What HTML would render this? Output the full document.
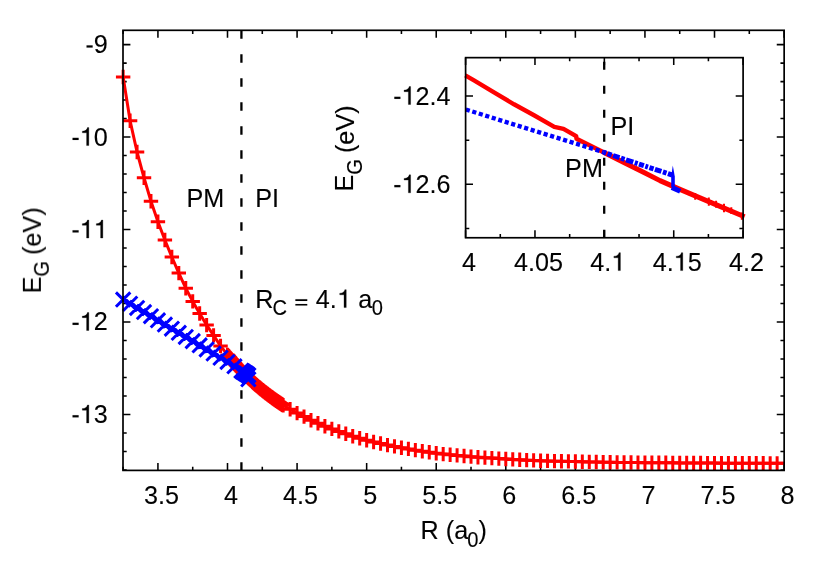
<!DOCTYPE html>
<html>
<head>
<meta charset="utf-8">
<title>E_G vs R</title>
<style>
html,body{margin:0;padding:0;background:#ffffff;}
body{width:822px;height:576px;overflow:hidden;font-family:"Liberation Sans",sans-serif;}
svg{display:block;will-change:transform;}
</style>
</head>
<body>
<svg width="822" height="576" viewBox="0 0 822 576">
<rect width="822" height="576" fill="#ffffff"/>
<path d="M123.14 470.4v-3.7M123.14 30.3v3.7M157.93 470.4v-7.4M157.93 30.3v7.4M192.72 470.4v-3.7M192.72 30.3v3.7M227.5 470.4v-7.4M227.5 30.3v7.4M262.29 470.4v-3.7M262.29 30.3v3.7M297.08 470.4v-7.4M297.08 30.3v7.4M331.86 470.4v-3.7M331.86 30.3v3.7M366.65 470.4v-7.4M366.65 30.3v7.4M401.43 470.4v-3.7M401.43 30.3v3.7M436.22 470.4v-7.4M436.22 30.3v7.4M471.01 470.4v-3.7M471.01 30.3v3.7M505.79 470.4v-7.4M505.79 30.3v7.4M540.58 470.4v-3.7M540.58 30.3v3.7M575.37 470.4v-7.4M575.37 30.3v7.4M610.15 470.4v-3.7M610.15 30.3v3.7M644.94 470.4v-7.4M644.94 30.3v7.4M679.72 470.4v-3.7M679.72 30.3v3.7M714.51 470.4v-7.4M714.51 30.3v7.4M749.3 470.4v-3.7M749.3 30.3v3.7M784.08 470.4v-7.4M784.08 30.3v7.4M123 469.91h3.7M784.15 469.91h-3.7M123 451.42h3.7M784.15 451.42h-3.7M123 432.93h3.7M784.15 432.93h-3.7M123 414.44h7.4M784.15 414.44h-7.4M123 395.95h3.7M784.15 395.95h-3.7M123 377.46h3.7M784.15 377.46h-3.7M123 358.97h3.7M784.15 358.97h-3.7M123 340.48h3.7M784.15 340.48h-3.7M123 321.99h7.4M784.15 321.99h-7.4M123 303.49h3.7M784.15 303.49h-3.7M123 285h3.7M784.15 285h-3.7M123 266.51h3.7M784.15 266.51h-3.7M123 248.02h3.7M784.15 248.02h-3.7M123 229.53h7.4M784.15 229.53h-7.4M123 211.04h3.7M784.15 211.04h-3.7M123 192.55h3.7M784.15 192.55h-3.7M123 174.06h3.7M784.15 174.06h-3.7M123 155.57h3.7M784.15 155.57h-3.7M123 137.07h7.4M784.15 137.07h-7.4M123 118.58h3.7M784.15 118.58h-3.7M123 100.09h3.7M784.15 100.09h-3.7M123 81.6h3.7M784.15 81.6h-3.7M123 63.11h3.7M784.15 63.11h-3.7M123 44.62h7.4M784.15 44.62h-7.4" stroke="#000" stroke-width="1.55" fill="none"/>
<path d="M241.42 30.3V470.4" stroke="#000" stroke-width="2.3" stroke-dasharray="8.4 15.6" fill="none"/>
<g fill="none" stroke-width="3.0">
<path d="M123.14 77L130.1 120.8L137.06 152L144.02 177.8L150.97 201.3L157.93 221.8L164.89 240L171.84 257L178.8 273.1L185.76 288.2L192.72 301.4L199.67 313.5L206.63 325.1L213.59 335.4L220.55 345.9L227.5 354.9L227.5 354.9L228.06 355.58L228.62 356.25L229.17 356.92L229.73 357.58L230.29 358.25L230.84 358.91L231.4 359.56L231.96 360.21L232.51 360.86L233.07 361.5L233.62 362.15L234.18 362.78L234.74 363.41L235.29 364.04L235.85 364.67L236.41 365.29L236.96 365.91L237.52 366.52L238.08 367.13L238.63 367.74L239.19 368.34L239.75 368.93L240.3 369.53L240.86 370.12L241.42 370.7L241.97 371.28L242.53 371.86L243.09 372.43L243.64 373.01L244.2 373.57L244.76 374.14L245.31 374.7L245.87 375.26L246.43 375.82L246.98 376.37L247.54 376.92L248.1 377.46L248.65 378L249.21 378.54L249.77 379.07L250.32 379.6L250.88 380.13L251.44 380.65L251.99 381.17L252.55 381.69L253.11 382.2L253.66 382.7L254.22 383.21L254.77 383.71L255.33 384.2L255.89 384.69L256.44 385.18L257 385.66L257.56 386.14L258.11 386.62L258.67 387.09L259.23 387.56L259.78 388.02L260.34 388.49L260.9 388.95L261.45 389.4L262.01 389.86L262.57 390.31L263.12 390.76L263.68 391.2L264.24 391.64L264.79 392.08L265.35 392.52L265.91 392.95L266.46 393.38L267.02 393.81L267.58 394.24L268.13 394.66L268.69 395.08L269.25 395.5L269.8 395.92L270.36 396.33L270.92 396.75L271.47 397.16L272.03 397.57L272.59 397.98L273.14 398.38L273.7 398.78L274.26 399.19L274.81 399.58L275.37 399.98L275.92 400.37L276.48 400.77L277.04 401.15L277.59 401.54L278.15 401.92L278.71 402.3L279.26 402.67L279.82 403.05L280.38 403.41L280.93 403.78L281.49 404.14L282.05 404.5L282.6 404.85L283.16 405.2L290.12 409.2L297.08 413.1L304.03 416.6L310.99 420.2L317.95 423.2L324.9 426.3L331.86 428.9L338.82 431.4L345.78 433.8L352.73 436.2L359.69 438.2L366.65 440.2L373.6 441.95L380.56 443.5L387.52 445.1L394.48 446.4L401.43 447.7L408.39 448.9L415.35 450.15L422.31 451.25L429.26 452.3L436.22 453.25L443.18 454.1L450.13 454.75L457.09 455.4L464.05 456.05L471.01 456.65L477.96 457.2L484.92 457.65L491.88 458.1L498.84 458.6L505.79 459.05L512.75 459.4L519.71 459.8L526.66 460.15L533.62 460.4L540.58 460.7L547.54 460.9L554.49 461.15L561.45 461.25L568.41 461.39L575.37 461.55L582.32 461.73L589.28 461.9L596.24 462.05L603.19 462.19L610.15 462.3L617.11 462.39L624.07 462.46L631.02 462.53L637.98 462.59L644.94 462.65L651.89 462.71L658.85 462.76L665.81 462.81L672.77 462.86L679.72 462.91L686.68 462.96L693.64 463L700.6 463.04L707.55 463.08L714.51 463.12L721.47 463.16L728.42 463.19L735.38 463.22L742.34 463.25L749.3 463.27L756.25 463.29L763.21 463.31L770.17 463.33L777.13 463.34L784.08 463.35" stroke="#ff0000" stroke-linejoin="round"/>
<path d="M115.94 77h14.4M123.14 69.8v14.4M122.9 120.8h14.4M130.1 113.6v14.4M129.86 152h14.4M137.06 144.8v14.4M136.82 177.8h14.4M144.02 170.6v14.4M143.77 201.3h14.4M150.97 194.1v14.4M150.73 221.8h14.4M157.93 214.6v14.4M157.69 240h14.4M164.89 232.8v14.4M164.64 257h14.4M171.84 249.8v14.4M171.6 273.1h14.4M178.8 265.9v14.4M178.56 288.2h14.4M185.76 281v14.4M185.52 301.4h14.4M192.72 294.2v14.4M192.47 313.5h14.4M199.67 306.3v14.4M199.43 325.1h14.4M206.63 317.9v14.4M206.39 335.4h14.4M213.59 328.2v14.4M213.35 345.9h14.4M220.55 338.7v14.4M220.3 354.9h14.4M227.5 347.7v14.4M220.3 354.9h14.4M227.5 347.7v14.4M220.86 355.58h14.4M228.06 348.38v14.4M221.42 356.25h14.4M228.62 349.05v14.4M221.97 356.92h14.4M229.17 349.72v14.4M222.53 357.58h14.4M229.73 350.38v14.4M223.09 358.25h14.4M230.29 351.05v14.4M223.64 358.91h14.4M230.84 351.71v14.4M224.2 359.56h14.4M231.4 352.36v14.4M224.76 360.21h14.4M231.96 353.01v14.4M225.31 360.86h14.4M232.51 353.66v14.4M225.87 361.5h14.4M233.07 354.3v14.4M226.42 362.15h14.4M233.62 354.95v14.4M226.98 362.78h14.4M234.18 355.58v14.4M227.54 363.41h14.4M234.74 356.21v14.4M228.09 364.04h14.4M235.29 356.84v14.4M228.65 364.67h14.4M235.85 357.47v14.4M229.21 365.29h14.4M236.41 358.09v14.4M229.76 365.91h14.4M236.96 358.71v14.4M230.32 366.52h14.4M237.52 359.32v14.4M230.88 367.13h14.4M238.08 359.93v14.4M231.43 367.74h14.4M238.63 360.54v14.4M231.99 368.34h14.4M239.19 361.14v14.4M232.55 368.93h14.4M239.75 361.73v14.4M233.1 369.53h14.4M240.3 362.33v14.4M233.66 370.12h14.4M240.86 362.92v14.4M234.22 370.7h14.4M241.42 363.5v14.4M234.77 371.28h14.4M241.97 364.08v14.4M235.33 371.86h14.4M242.53 364.66v14.4M235.89 372.43h14.4M243.09 365.23v14.4M236.44 373.01h14.4M243.64 365.81v14.4M237 373.57h14.4M244.2 366.37v14.4M237.56 374.14h14.4M244.76 366.94v14.4M238.11 374.7h14.4M245.31 367.5v14.4M238.67 375.26h14.4M245.87 368.06v14.4M239.23 375.82h14.4M246.43 368.62v14.4M239.78 376.37h14.4M246.98 369.17v14.4M240.34 376.92h14.4M247.54 369.72v14.4M240.9 377.46h14.4M248.1 370.26v14.4M241.45 378h14.4M248.65 370.8v14.4M242.01 378.54h14.4M249.21 371.34v14.4M242.57 379.07h14.4M249.77 371.87v14.4M243.12 379.6h14.4M250.32 372.4v14.4M243.68 380.13h14.4M250.88 372.93v14.4M244.24 380.65h14.4M251.44 373.45v14.4M244.79 381.17h14.4M251.99 373.97v14.4M245.35 381.69h14.4M252.55 374.49v14.4M245.91 382.2h14.4M253.11 375v14.4M246.46 382.7h14.4M253.66 375.5v14.4M247.02 383.21h14.4M254.22 376.01v14.4M247.57 383.71h14.4M254.77 376.51v14.4M248.13 384.2h14.4M255.33 377v14.4M248.69 384.69h14.4M255.89 377.49v14.4M249.24 385.18h14.4M256.44 377.98v14.4M249.8 385.66h14.4M257 378.46v14.4M250.36 386.14h14.4M257.56 378.94v14.4M250.91 386.62h14.4M258.11 379.42v14.4M251.47 387.09h14.4M258.67 379.89v14.4M252.03 387.56h14.4M259.23 380.36v14.4M252.58 388.02h14.4M259.78 380.82v14.4M253.14 388.49h14.4M260.34 381.29v14.4M253.7 388.95h14.4M260.9 381.75v14.4M254.25 389.4h14.4M261.45 382.2v14.4M254.81 389.86h14.4M262.01 382.66v14.4M255.37 390.31h14.4M262.57 383.11v14.4M255.92 390.76h14.4M263.12 383.56v14.4M256.48 391.2h14.4M263.68 384v14.4M257.04 391.64h14.4M264.24 384.44v14.4M257.59 392.08h14.4M264.79 384.88v14.4M258.15 392.52h14.4M265.35 385.32v14.4M258.71 392.95h14.4M265.91 385.75v14.4M259.26 393.38h14.4M266.46 386.18v14.4M259.82 393.81h14.4M267.02 386.61v14.4M260.38 394.24h14.4M267.58 387.04v14.4M260.93 394.66h14.4M268.13 387.46v14.4M261.49 395.08h14.4M268.69 387.88v14.4M262.05 395.5h14.4M269.25 388.3v14.4M262.6 395.92h14.4M269.8 388.72v14.4M263.16 396.33h14.4M270.36 389.13v14.4M263.72 396.75h14.4M270.92 389.55v14.4M264.27 397.16h14.4M271.47 389.96v14.4M264.83 397.57h14.4M272.03 390.37v14.4M265.39 397.98h14.4M272.59 390.78v14.4M265.94 398.38h14.4M273.14 391.18v14.4M266.5 398.78h14.4M273.7 391.58v14.4M267.06 399.19h14.4M274.26 391.99v14.4M267.61 399.58h14.4M274.81 392.38v14.4M268.17 399.98h14.4M275.37 392.78v14.4M268.72 400.37h14.4M275.92 393.17v14.4M269.28 400.77h14.4M276.48 393.57v14.4M269.84 401.15h14.4M277.04 393.95v14.4M270.39 401.54h14.4M277.59 394.34v14.4M270.95 401.92h14.4M278.15 394.72v14.4M271.51 402.3h14.4M278.71 395.1v14.4M272.06 402.67h14.4M279.26 395.47v14.4M272.62 403.05h14.4M279.82 395.85v14.4M273.18 403.41h14.4M280.38 396.21v14.4M273.73 403.78h14.4M280.93 396.58v14.4M274.29 404.14h14.4M281.49 396.94v14.4M274.85 404.5h14.4M282.05 397.3v14.4M275.4 404.85h14.4M282.6 397.65v14.4M275.96 405.2h14.4M283.16 398v14.4M282.92 409.2h14.4M290.12 402v14.4M289.88 413.1h14.4M297.08 405.9v14.4M296.83 416.6h14.4M304.03 409.4v14.4M303.79 420.2h14.4M310.99 413v14.4M310.75 423.2h14.4M317.95 416v14.4M317.7 426.3h14.4M324.9 419.1v14.4M324.66 428.9h14.4M331.86 421.7v14.4M331.62 431.4h14.4M338.82 424.2v14.4M338.58 433.8h14.4M345.78 426.6v14.4M345.53 436.2h14.4M352.73 429v14.4M352.49 438.2h14.4M359.69 431v14.4M359.45 440.2h14.4M366.65 433v14.4M366.4 441.95h14.4M373.6 434.75v14.4M373.36 443.5h14.4M380.56 436.3v14.4M380.32 445.1h14.4M387.52 437.9v14.4M387.28 446.4h14.4M394.48 439.2v14.4M394.23 447.7h14.4M401.43 440.5v14.4M401.19 448.9h14.4M408.39 441.7v14.4M408.15 450.15h14.4M415.35 442.95v14.4M415.11 451.25h14.4M422.31 444.05v14.4M422.06 452.3h14.4M429.26 445.1v14.4M429.02 453.25h14.4M436.22 446.05v14.4M435.98 454.1h14.4M443.18 446.9v14.4M442.93 454.75h14.4M450.13 447.55v14.4M449.89 455.4h14.4M457.09 448.2v14.4M456.85 456.05h14.4M464.05 448.85v14.4M463.81 456.65h14.4M471.01 449.45v14.4M470.76 457.2h14.4M477.96 450v14.4M477.72 457.65h14.4M484.92 450.45v14.4M484.68 458.1h14.4M491.88 450.9v14.4M491.64 458.6h14.4M498.84 451.4v14.4M498.59 459.05h14.4M505.79 451.85v14.4M505.55 459.4h14.4M512.75 452.2v14.4M512.51 459.8h14.4M519.71 452.6v14.4M519.46 460.15h14.4M526.66 452.95v14.4M526.42 460.4h14.4M533.62 453.2v14.4M533.38 460.7h14.4M540.58 453.5v14.4M540.34 460.9h14.4M547.54 453.7v14.4M547.29 461.15h14.4M554.49 453.95v14.4M554.25 461.25h14.4M561.45 454.05v14.4M561.21 461.39h14.4M568.41 454.19v14.4M568.16 461.55h14.4M575.37 454.35v14.4M575.12 461.73h14.4M582.32 454.53v14.4M582.08 461.9h14.4M589.28 454.7v14.4M589.04 462.05h14.4M596.24 454.85v14.4M595.99 462.19h14.4M603.19 454.99v14.4M602.95 462.3h14.4M610.15 455.1v14.4M609.91 462.39h14.4M617.11 455.19v14.4M616.87 462.46h14.4M624.07 455.26v14.4M623.82 462.53h14.4M631.02 455.33v14.4M630.78 462.59h14.4M637.98 455.39v14.4M637.74 462.65h14.4M644.94 455.45v14.4M644.69 462.71h14.4M651.89 455.51v14.4M651.65 462.76h14.4M658.85 455.56v14.4M658.61 462.81h14.4M665.81 455.61v14.4M665.57 462.86h14.4M672.77 455.66v14.4M672.52 462.91h14.4M679.72 455.71v14.4M679.48 462.96h14.4M686.68 455.76v14.4M686.44 463h14.4M693.64 455.8v14.4M693.4 463.04h14.4M700.6 455.84v14.4M700.35 463.08h14.4M707.55 455.88v14.4M707.31 463.12h14.4M714.51 455.92v14.4M714.27 463.16h14.4M721.47 455.96v14.4M721.22 463.19h14.4M728.42 455.99v14.4M728.18 463.22h14.4M735.38 456.02v14.4M735.14 463.25h14.4M742.34 456.05v14.4M742.1 463.27h14.4M749.3 456.07v14.4M749.05 463.29h14.4M756.25 456.09v14.4M756.01 463.31h14.4M763.21 456.11v14.4M762.97 463.33h14.4M770.17 456.13v14.4M769.93 463.34h14.4M777.13 456.14v14.4" stroke="#ff0000"/>
<path d="M123.14 299.6L130.1 303.75L137.06 307.91L144.02 312.06L150.97 316.21L157.93 320.37L164.89 324.52L171.84 328.67L178.8 332.82L185.76 336.98L192.72 341.13L199.67 345.28L206.63 349.44L213.59 353.59L220.55 357.74L227.5 361.9L234.46 366.32L241.42 370.74L241.42 370.74L241.76 370.96L242.11 371.18L242.46 371.4L242.81 371.62L243.16 371.85L243.5 372.07L243.85 372.29L244.2 372.51L244.55 372.73L244.9 372.95L245.24 373.17L245.59 373.39L245.94 373.61L246.29 373.83L246.63 374.06L246.98 374.28L247.33 374.5L247.68 374.72L248.03 374.94L248.37 375.16L248.37 379.3" stroke="#0000ff"/>
<path d="M115.94 292.4l14.4 14.4M115.94 306.8l14.4 -14.4M122.9 296.55l14.4 14.4M122.9 310.95l14.4 -14.4M129.86 300.71l14.4 14.4M129.86 315.11l14.4 -14.4M136.82 304.86l14.4 14.4M136.82 319.26l14.4 -14.4M143.77 309.01l14.4 14.4M143.77 323.41l14.4 -14.4M150.73 313.17l14.4 14.4M150.73 327.56l14.4 -14.4M157.69 317.32l14.4 14.4M157.69 331.72l14.4 -14.4M164.64 321.47l14.4 14.4M164.64 335.87l14.4 -14.4M171.6 325.62l14.4 14.4M171.6 340.02l14.4 -14.4M178.56 329.78l14.4 14.4M178.56 344.18l14.4 -14.4M185.52 333.93l14.4 14.4M185.52 348.33l14.4 -14.4M192.47 338.08l14.4 14.4M192.47 352.48l14.4 -14.4M199.43 342.24l14.4 14.4M199.43 356.64l14.4 -14.4M206.39 346.39l14.4 14.4M206.39 360.79l14.4 -14.4M213.35 350.54l14.4 14.4M213.35 364.94l14.4 -14.4M220.3 354.7l14.4 14.4M220.3 369.1l14.4 -14.4M227.26 359.12l14.4 14.4M227.26 373.52l14.4 -14.4M234.22 363.54l14.4 14.4M234.22 377.94l14.4 -14.4M234.22 363.54l14.4 14.4M234.22 377.94l14.4 -14.4M234.56 363.76l14.4 14.4M234.56 378.16l14.4 -14.4M234.91 363.98l14.4 14.4M234.91 378.38l14.4 -14.4M235.26 364.2l14.4 14.4M235.26 378.6l14.4 -14.4M235.61 364.42l14.4 14.4M235.61 378.82l14.4 -14.4M235.96 364.65l14.4 14.4M235.96 379.05l14.4 -14.4M236.3 364.87l14.4 14.4M236.3 379.27l14.4 -14.4M236.65 365.09l14.4 14.4M236.65 379.49l14.4 -14.4M237 365.31l14.4 14.4M237 379.71l14.4 -14.4M237.35 365.53l14.4 14.4M237.35 379.93l14.4 -14.4M237.7 365.75l14.4 14.4M237.7 380.15l14.4 -14.4M238.04 365.97l14.4 14.4M238.04 380.37l14.4 -14.4M238.39 366.19l14.4 14.4M238.39 380.59l14.4 -14.4M238.74 366.41l14.4 14.4M238.74 380.81l14.4 -14.4M239.09 366.63l14.4 14.4M239.09 381.03l14.4 -14.4M239.43 366.86l14.4 14.4M239.43 381.26l14.4 -14.4M239.78 367.08l14.4 14.4M239.78 381.48l14.4 -14.4M240.13 367.3l14.4 14.4M240.13 381.7l14.4 -14.4M240.48 367.52l14.4 14.4M240.48 381.92l14.4 -14.4M240.83 367.74l14.4 14.4M240.83 382.14l14.4 -14.4M241.17 367.96l14.4 14.4M241.17 382.36l14.4 -14.4M241.17 372.1l14.4 14.4M241.17 386.5l14.4 -14.4" stroke="#0000ff"/>
</g>
<rect x="123" y="30.3" width="661.15" height="440.1" fill="none" stroke="#000" stroke-width="1.7"/>
<rect x="465.6" y="57.65" width="277.5" height="180.1" fill="#fff"/>
<path d="M465.6 237.75v-7.4M465.6 57.65v7.4M500.29 237.75v-3.7M500.29 57.65v3.7M534.97 237.75v-7.4M534.97 57.65v7.4M569.66 237.75v-3.7M569.66 57.65v3.7M604.35 237.75v-7.4M604.35 57.65v7.4M639.04 237.75v-3.7M639.04 57.65v3.7M673.73 237.75v-7.4M673.73 57.65v7.4M708.41 237.75v-3.7M708.41 57.65v3.7M743.1 237.75v-7.4M743.1 57.65v7.4M465.6 96h7.4M743.1 96h-7.4M465.6 140.15h3.7M743.1 140.15h-3.7M465.6 184.3h7.4M743.1 184.3h-7.4M465.6 228.45h3.7M743.1 228.45h-3.7" stroke="#000" stroke-width="1.55" fill="none"/>
<path d="M604.2 237.75V57.65" stroke="#000" stroke-width="2.3" stroke-dasharray="8 16" fill="none"/>
<path d="M603.5 152.2L626.9 164L645 172.9L660 180.6L680 189.4L700 197.9L720 206.4L744.6 216.7" stroke="#ff0000" stroke-width="5.0" fill="none" stroke-linejoin="round"/>
<path d="M465.3 75.4L474 80.4L494 92.4L514 104.3L534 115.2L554.3 126.8L563.5 128.9L576.2 136.2L576.5 138.7L603.5 152.2" stroke="#ff0000" stroke-width="4.4" fill="none" stroke-linejoin="round"/>
<path d="M695.2 192.96v6.9M708.8 197.44v8.2M716.1 200.74v6.9M724 203.87v8.5M731.3 207.23v6.8M741.8 212.53v7.2" stroke="#ff0000" stroke-width="2" fill="none"/>
<path d="M465.8 109.5L603.5 152.2" stroke="#0000ff" stroke-width="4.4" fill="none" stroke-dasharray="4.15 2.64"/>
<path d="M603.5 152.2L620 157.9L672.3 175" stroke="#0000ff" stroke-width="5.0" fill="none" stroke-dasharray="2.8 1.5 4.4 1.4 6.8 1.6 3.8 1.5 7.6 1.6 3 1.4 5.2 1.5"/>
<path d="M672.8 165.6L674.8 176.5L674.8 187L671.2 187L671.2 176.5Z" fill="#0000ff"/>
<path d="M671.8 187.4L680.2 191.2" stroke="#0000ff" stroke-width="5.0" fill="none"/>
<rect x="465.6" y="57.65" width="277.5" height="180.1" fill="none" stroke="#000" stroke-width="1.7"/>
<defs><path id="one" d="M359 0L359 709L302 709C288 640 250 575 101 568L101 505L271 505L271 0Z"/><path id="hyp" d="M46 221H287V307H46Z"/><path id="eq" d="M57 266H527V332H57ZM57 79H527V145H57Z"/></defs>
<g font-family="'Liberation Sans', sans-serif" font-size="25.2" fill="#000" stroke="#000" stroke-width="0.12" stroke-linejoin="round" opacity="0.999" style="font-kerning:none;white-space:pre">
<g transform="translate(107.8 422.94) scale(1 1.04)">
<use href="#hyp" stroke-width="3.97" transform="translate(-36.41 0) scale(0.02520 -0.02423)"/>
<use href="#one" stroke-width="12.7" transform="translate(-28.02 0) scale(0.02520 -0.02435)"/>
<text x="-14.01" y="0">3</text>
</g>
<g transform="translate(107.8 330.49) scale(1 1.04)">
<use href="#hyp" stroke-width="3.97" transform="translate(-36.41 0) scale(0.02520 -0.02423)"/>
<use href="#one" stroke-width="12.7" transform="translate(-28.02 0) scale(0.02520 -0.02435)"/>
<text x="-14.01" y="0">2</text>
</g>
<g transform="translate(107.8 238.03) scale(1 1.04)">
<use href="#hyp" stroke-width="3.97" transform="translate(-36.41 0) scale(0.02520 -0.02423)"/>
<use href="#one" stroke-width="12.7" transform="translate(-28.02 0) scale(0.02520 -0.02435)"/>
<use href="#one" stroke-width="12.7" transform="translate(-14.01 0) scale(0.02520 -0.02435)"/>
</g>
<g transform="translate(107.8 145.57) scale(1 1.04)">
<use href="#hyp" stroke-width="3.97" transform="translate(-36.41 0) scale(0.02520 -0.02423)"/>
<use href="#one" stroke-width="12.7" transform="translate(-28.02 0) scale(0.02520 -0.02435)"/>
<text x="-14.01" y="0">0</text>
</g>
<g transform="translate(107.8 53.12) scale(1 1.04)">
<use href="#hyp" stroke-width="3.97" transform="translate(-22.4 0) scale(0.02520 -0.02423)"/>
<text x="-14.01" y="0">9</text>
</g>
<g transform="translate(161.43 504.2) scale(1 1.04)">
<text x="-17.51" y="0">3.5</text>
</g>
<g transform="translate(231 504.2) scale(1 1.04)">
<text x="-7.01" y="0">4</text>
</g>
<g transform="translate(300.58 504.2) scale(1 1.04)">
<text x="-17.51" y="0">4.5</text>
</g>
<g transform="translate(370.15 504.2) scale(1 1.04)">
<text x="-7.01" y="0">5</text>
</g>
<g transform="translate(439.72 504.2) scale(1 1.04)">
<text x="-17.51" y="0">5.5</text>
</g>
<g transform="translate(509.29 504.2) scale(1 1.04)">
<text x="-7.01" y="0">6</text>
</g>
<g transform="translate(578.87 504.2) scale(1 1.04)">
<text x="-17.51" y="0">6.5</text>
</g>
<g transform="translate(648.44 504.2) scale(1 1.04)">
<text x="-7.01" y="0">7</text>
</g>
<g transform="translate(718.01 504.2) scale(1 1.04)">
<text x="-17.51" y="0">7.5</text>
</g>
<g transform="translate(787.58 504.2) scale(1 1.04)">
<text x="-7.01" y="0">8</text>
</g>
<g transform="translate(420.6 538.9) scale(1 1.04)">
<text x="0" y="0">R (a</text>
<text transform="translate(46.6 7.5) scale(1 1.02)" font-size="20.16">0</text>
<text x="57.81" y="0">)</text>
</g>
<g transform="translate(40.8 250.4) rotate(-90) scale(1 1.04)">
<text x="-43.05" y="0">E</text>
<text transform="translate(-26.24 8.1) scale(1 1.08)" font-size="20.16">G</text>
<text x="-4.55" y="0.5">(eV)</text>
</g>
<g transform="translate(186.5 206.9) scale(1 1.04)">
<text x="0" y="0">PM</text>
</g>
<g transform="translate(255.2 206.9) scale(1 1.04)">
<text x="0" y="0">PI</text>
</g>
<g transform="translate(255.2 307.6) scale(1 1.04)">
<text x="0" y="0">R</text>
<text transform="translate(17.19 7.5) scale(1 1.02)" font-size="20.16">C</text>
<use href="#eq" stroke-width="3.97" transform="translate(38.76 0) scale(0.02520 -0.02423)"/>
<text x="60.48" y="0">4.</text>
<use href="#one" stroke-width="12.7" transform="translate(81.99 0) scale(0.02520 -0.02435)"/>
<text x="103.01" y="0">a</text>
<text transform="translate(116.52 7.5) scale(1 1.02)" font-size="20.16">0</text>
</g>
<g transform="translate(450.6 104.5) scale(1 1.04)">
<use href="#hyp" stroke-width="3.97" transform="translate(-57.43 0) scale(0.02520 -0.02423)"/>
<use href="#one" stroke-width="12.7" transform="translate(-49.04 0) scale(0.02520 -0.02435)"/>
<text x="-35.03" y="0">2.4</text>
</g>
<g transform="translate(450.6 192.8) scale(1 1.04)">
<use href="#hyp" stroke-width="3.97" transform="translate(-57.43 0) scale(0.02520 -0.02423)"/>
<use href="#one" stroke-width="12.7" transform="translate(-49.04 0) scale(0.02520 -0.02435)"/>
<text x="-35.03" y="0">2.6</text>
</g>
<g transform="translate(469.1 270.6) scale(1 1.04)">
<text x="-7.01" y="0">4</text>
</g>
<g transform="translate(538.47 270.6) scale(1 1.04)">
<text x="-24.52" y="0">4.05</text>
</g>
<g transform="translate(607.85 270.6) scale(1 1.04)">
<text x="-17.51" y="0">4.</text>
<use href="#one" stroke-width="12.7" transform="translate(3.5 0) scale(0.02520 -0.02435)"/>
</g>
<g transform="translate(677.23 270.6) scale(1 1.04)">
<text x="-24.52" y="0">4.</text>
<use href="#one" stroke-width="12.7" transform="translate(-3.5 0) scale(0.02520 -0.02435)"/>
<text x="10.51" y="0">5</text>
</g>
<g transform="translate(746.6 270.6) scale(1 1.04)">
<text x="-17.51" y="0">4.2</text>
</g>
<g transform="translate(352.9 148.5) rotate(-90) scale(1 1.04)">
<text x="-43.05" y="0">E</text>
<text transform="translate(-26.24 8.4) scale(1 1.08)" font-size="20.16">G</text>
<text x="-4.55" y="0.9">(eV)</text>
</g>
<g transform="translate(610.5 135) scale(1 1.04)">
<text x="0" y="0">PI</text>
</g>
<g transform="translate(565.1 177) scale(1 1.04)">
<text x="0" y="0">PM</text>
</g>
</g>
</svg>
</body>
</html>
